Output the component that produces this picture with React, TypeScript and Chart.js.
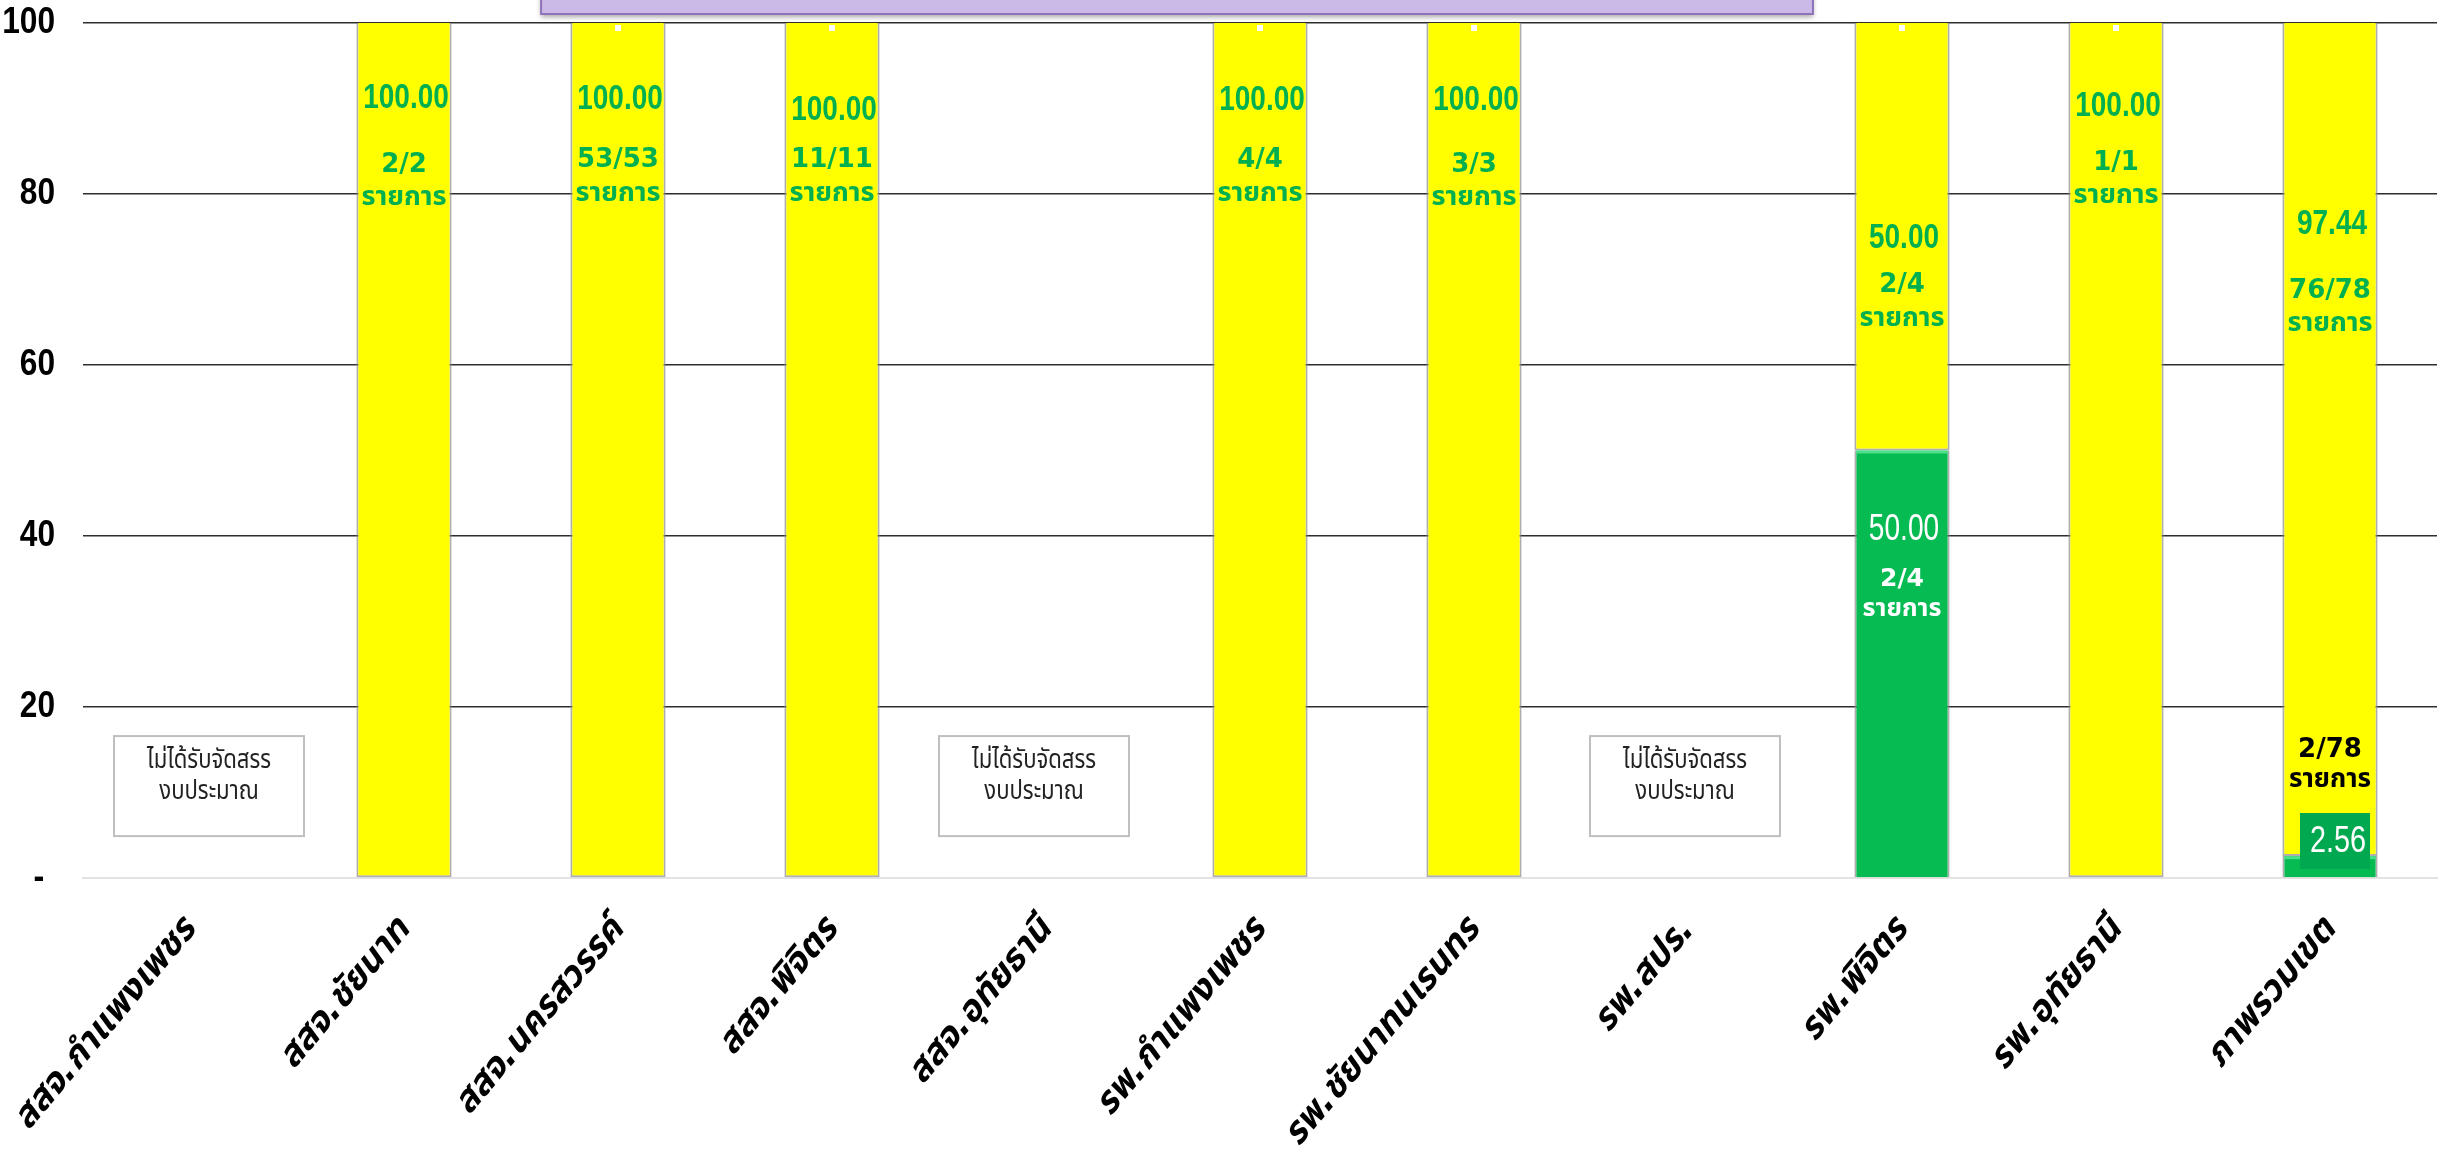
import React, { useEffect, useRef } from 'react';
import { Chart, registerables } from 'chart.js';
Chart.register(...registerables);

// ---------- data ----------
const categories = [
  'สสจ.กำแพงเพชร',
  'สสจ.ชัยนาท',
  'สสจ.นครสวรรค์',
  'สสจ.พิจิตร',
  'สสจ.อุทัยธานี',
  'รพ.กำแพงเพชร',
  'รพ.ชัยนาทนเรนทร',
  'รพ.สปร.',
  'รพ.พิจิตร',
  'รพ.อุทัยธานี',
  'ภาพรวมเขต',
];
const greenValues = [0, 0, 0, 0, 0, 0, 0, 0, 50, 0, 2.56];
const yellowValues = [0, 100, 100, 100, 0, 100, 100, 0, 50, 100, 97.44];
const greenCounts = ['', '', '', '', '', '', '', '', '2/4', '', '2/78'];
const yellowCounts = ['', '2/2', '53/53', '11/11', '', '4/4', '3/3', '', '2/4', '1/1', '76/78'];
const noBudget = [true, false, false, false, true, false, false, true, false, false, false];
const yTicks = [0, 20, 40, 60, 80, 100];
const unitText = 'รายการ';
const noBudgetText = ['ไม่ได้รับจัดสรร', 'งบประมาณ'];

// ---------- label placement (style only, in axis units / px) ----------
const yellowValueAt = [0, 91.2, 91.1, 89.8, 0, 90.9, 90.9, 0, 74.8, 90.3, 76.5];
const yellowCountAt = [0, 83.4, 83.9, 83.9, 0, 83.9, 83.4, 0, 69.3, 83.6, 68.6];
const greenValueAt = [0, 0, 0, 0, 0, 0, 0, 0, 40.7, 0, 0];
const greenCountAt = [0, 0, 0, 0, 0, 0, 0, 0, 34.9, 0, 15.0];
const noteShift = [19, 0, 0, 0, -12, 0, 0, -3, 0, 0, 0];
const topMarks = [false, false, true, true, false, true, true, false, true, true, false];

const SANS = "'Liberation Sans', Arial, sans-serif";
const THAI = "'DejaVu Sans', 'Noto Sans Thai', 'Noto Sans Thai UI', 'Loma', 'Garuda', 'Tahoma', sans-serif";

const GREEN = '#07BB53';
const YELLOW = '#FFFF00';
const LABEL_GREEN = '#00B050';

function condensed(ctx: CanvasRenderingContext2D, text: string, x: number, y: number, sx: number) {
  ctx.save();
  ctx.translate(x, y);
  ctx.scale(sx, 1);
  ctx.fillText(text, 0, 0);
  ctx.restore();
}

const overlayPlugin = {
  id: 'overlay',
  afterDatasetsDraw(chart: any) {
    const { ctx, scales, chartArea } = chart;
    const x = scales.x;
    const y = scales.y;
    const gMeta = chart.getDatasetMeta(0);
    const yMeta = chart.getDatasetMeta(1);
    ctx.save();
    ctx.textBaseline = 'middle';

    // y tick labels (condensed bold)
    ctx.fillStyle = '#000000';
    ctx.font = `bold 36px ${SANS}`;
    yTicks.forEach((v) => {
      const py = y.getPixelForValue(v);
      if (v === 0) {
        ctx.textAlign = 'center';
        condensed(ctx, '-', chartArea.left - 44, py, 0.9);
      } else {
        ctx.textAlign = 'right';
        condensed(ctx, String(v), chartArea.left - 28, py, 0.88);
      }
    });
    ctx.textAlign = 'center';

    // green bevel on top of green segments
    greenValues.forEach((v, i) => {
      if (!v) return;
      const bar = gMeta.data[i];
      const w = bar.width;
      ctx.fillStyle = '#4DE08A';
      ctx.fillRect(bar.x - w / 2 + 2, bar.y, w - 4, 3);
    });

    // tiny white marks at the top of some bars
    topMarks.forEach((m, i) => {
      if (!m) return;
      const bar = yMeta.data[i];
      ctx.fillStyle = '#FFFFFF';
      ctx.fillRect(bar.x - 3, bar.y + 2, 6, 6);
    });

    // yellow labels
    yellowValues.forEach((v, i) => {
      if (!v) return;
      const bar = yMeta.data[i];
      ctx.fillStyle = LABEL_GREEN;
      ctx.font = `bold 35px ${SANS}`;
      condensed(ctx, v.toFixed(2), bar.x + 2, y.getPixelForValue(yellowValueAt[i]), 0.8);
      const cy = y.getPixelForValue(yellowCountAt[i]);
      ctx.font = `bold 26px ${THAI}`;
      ctx.fillText(yellowCounts[i], bar.x, cy);
      ctx.font = `bold 27px ${THAI}`;
      ctx.fillText(unitText, bar.x, cy + 33);
    });

    // green labels
    greenValues.forEach((v, i) => {
      if (!v) return;
      const bar = gMeta.data[i];
      const cy = y.getPixelForValue(greenCountAt[i]);
      if (v >= 10) {
        ctx.fillStyle = '#FFFFFF';
        ctx.font = `36px ${SANS}`;
        condensed(ctx, v.toFixed(2), bar.x + 2, y.getPixelForValue(greenValueAt[i]), 0.78);
        ctx.font = `bold 25px ${THAI}`;
        ctx.fillText(greenCounts[i], bar.x, cy);
        ctx.fillText(unitText, bar.x, cy + 30);
      } else {
        ctx.fillStyle = '#000000';
        ctx.font = `bold 26px ${THAI}`;
        ctx.fillText(greenCounts[i], bar.x, cy);
        ctx.fillText(unitText, bar.x, cy + 30);
        const base = y.getPixelForValue(0);
        const bw = 70, bh = 56;
        const bx = bar.x + 5 - bw / 2;
        const by = base - 9 - bh;
        ctx.fillStyle = '#00A84F';
        ctx.fillRect(bx, by, bw, bh);
        ctx.fillStyle = '#FFFFFF';
        ctx.font = `37px ${SANS}`;
        condensed(ctx, v.toFixed(2), bx + bw / 2 + 3, by + bh / 2 + 1, 0.78);
      }
    });

    // "no budget" notes
    noBudget.forEach((nb, i) => {
      if (!nb) return;
      const cx = x.getPixelForValue(i) + noteShift[i];
      const top = y.getPixelForValue(16.6);
      const bottom = y.getPixelForValue(4.9);
      const w = 190;
      ctx.fillStyle = '#FFFFFF';
      ctx.fillRect(cx - w / 2, top, w, bottom - top);
      ctx.strokeStyle = '#BFBFBF';
      ctx.lineWidth = 2;
      ctx.strokeRect(cx - w / 2, top, w, bottom - top);
      ctx.fillStyle = '#222222';
      ctx.font = `26px ${THAI}`;
      condensed(ctx, noBudgetText[0], cx, top + 25, 0.85);
      condensed(ctx, noBudgetText[1], cx, top + 56, 0.85);
    });
    ctx.restore();
  },
  afterDraw(chart: any) {
    const { ctx, width } = chart;
    ctx.save();
    const x0 = width * 0.2213;
    const x1 = width * 0.7415;
    ctx.shadowColor = 'rgba(0,0,0,0.35)';
    ctx.shadowBlur = 5;
    ctx.shadowOffsetY = 3;
    ctx.fillStyle = '#CBB9E8';
    ctx.fillRect(x0, -10, x1 - x0, 24);
    ctx.shadowColor = 'transparent';
    ctx.strokeStyle = '#8E72BA';
    ctx.lineWidth = 2;
    ctx.strokeRect(x0, -10, x1 - x0, 24);
    ctx.restore();
  },
};

export default function App() {
  const ref = useRef<HTMLCanvasElement>(null);
  useEffect(() => {
    document.body.style.margin = '0';
    document.body.style.overflow = 'hidden';
    const chart = new Chart(ref.current as HTMLCanvasElement, {
      type: 'bar',
      data: {
        labels: categories,
        datasets: [
          {
            label: 'green',
            data: greenValues,
            backgroundColor: GREEN,
            borderColor: 'rgba(140,140,140,0.7)',
            borderWidth: { left: 2, right: 2, top: 0, bottom: 0 } as any,
            borderSkipped: false,
            barPercentage: 0.445,
            categoryPercentage: 1,
          },
          {
            label: 'yellow',
            data: yellowValues,
            backgroundColor: YELLOW,
            borderColor: 'rgba(140,140,140,0.7)',
            borderWidth: { left: 2, right: 2, top: 0, bottom: 2 } as any,
            borderSkipped: false,
            barPercentage: 0.445,
            categoryPercentage: 1,
          },
        ],
      },
      options: {
        responsive: false,
        animation: false,
        devicePixelRatio: 1,
        layout: { padding: { top: 23, right: 8, left: 0, bottom: 0 } },
        plugins: {
          legend: { display: false },
          tooltip: { enabled: false },
          title: { display: false },
        },
        scales: {
          x: {
            stacked: true,
            grid: { display: false },
            border: { display: true, color: '#E3E3E3', width: 2 },
            ticks: {
              autoSkip: false,
              minRotation: 50,
              maxRotation: 50,
              padding: 24,
              color: '#000000',
              font: { family: THAI, size: 36, weight: 'bold', style: 'italic' },
            },
            afterFit(scale: any) {
              scale.height = 275;
              scale.paddingLeft = 0;
              scale.paddingRight = 0;
            },
          },
          y: {
            stacked: true,
            min: 0,
            max: 100,
            afterBuildTicks(scale: any) {
              scale.ticks = yTicks.map((v) => ({ value: v }));
            },
            grid: {
              drawTicks: false,
              color: (c: any) => (c.tick && c.tick.value === 0 ? 'rgba(0,0,0,0)' : '#2E2E2E'),
              lineWidth: 1.5,
            },
            border: { display: false },
            ticks: { display: false },
            afterFit(scale: any) {
              scale.width = 83;
            },
          },
        },
      },
      plugins: [overlayPlugin],
    });
    return () => chart.destroy();
  }, []);
  return (
    <div style={{ width: 2445, height: 1153, background: '#FFFFFF', overflow: 'hidden' }}>
      <canvas ref={ref} width={2445} height={1153} style={{ display: 'block' }} />
    </div>
  );
}
